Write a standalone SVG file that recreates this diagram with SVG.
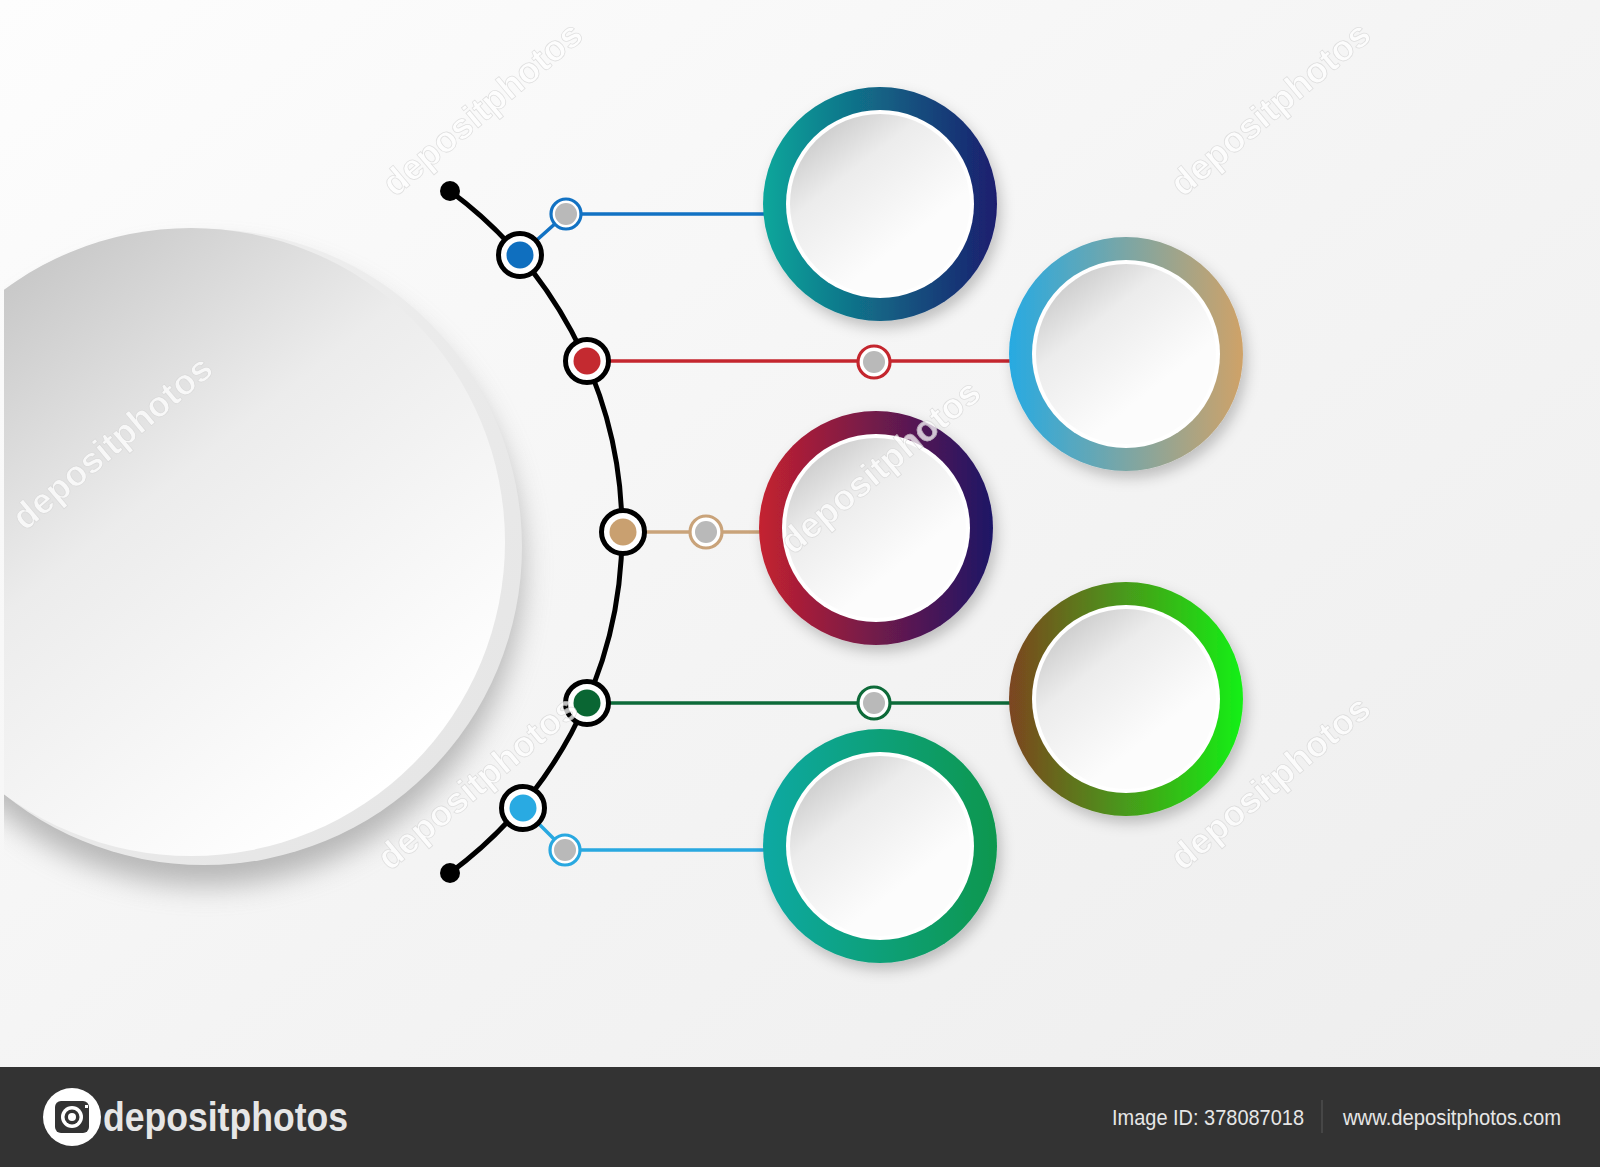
<svg xmlns="http://www.w3.org/2000/svg" width="1600" height="1167" viewBox="0 0 1600 1167">
<defs>
<style>
.arc{fill:none;stroke:#000;stroke-width:5}
.hub{fill:#fff;stroke:#000;stroke-width:5}
.sub{fill:#fff;stroke-width:3.2}
.gray{fill:#b9b9b9}
.ln{fill:none;stroke-width:3.5}
.wm{font-family:"Liberation Sans",Arial,sans-serif;font-size:36px;font-weight:bold;fill:#ffffff;stroke:#d8d8d8;stroke-width:0.8;opacity:0.75}
.bar{font-family:"Liberation Sans",Arial,sans-serif;fill:#e6e6e6}
</style>
<linearGradient id="bg" x1="0" y1="0" x2="1" y2="1">
<stop offset="0" stop-color="#fdfdfd"/><stop offset="0.5" stop-color="#f4f4f4"/><stop offset="1" stop-color="#ededed"/>
</linearGradient>
<linearGradient id="bigdisk" gradientUnits="userSpaceOnUse" x1="0" y1="230" x2="420" y2="760">
<stop offset="0" stop-color="#c2c2c2"/><stop offset="0.45" stop-color="#ececec"/><stop offset="1" stop-color="#ffffff"/>
</linearGradient>
<linearGradient id="rim" x1="0" y1="0" x2="1" y2="1">
<stop offset="0" stop-color="#f2f2f2"/><stop offset="1" stop-color="#e4e4e4"/>
</linearGradient>
<linearGradient id="disk" x1="0.12" y1="0.08" x2="0.62" y2="0.72">
<stop offset="0" stop-color="#c9c9c9"/><stop offset="0.4" stop-color="#ececec"/><stop offset="1" stop-color="#fcfcfc"/>
</linearGradient>
<linearGradient id="g1" x1="0" y1="0" x2="1" y2="0"><stop offset="0" stop-color="#0aa79b"/><stop offset="1" stop-color="#1b1e6e"/></linearGradient>
<linearGradient id="g2" x1="0" y1="0" x2="1" y2="0"><stop offset="0" stop-color="#27aae2"/><stop offset="1" stop-color="#cfa268"/></linearGradient>
<linearGradient id="g3" x1="0" y1="0" x2="1" y2="0"><stop offset="0" stop-color="#c4212f"/><stop offset="1" stop-color="#1d1466"/></linearGradient>
<linearGradient id="g4" x1="0" y1="0" x2="1" y2="0"><stop offset="0" stop-color="#7c4520"/><stop offset="1" stop-color="#14f014"/></linearGradient>
<linearGradient id="g5" x1="0" y1="0" x2="1" y2="0"><stop offset="0" stop-color="#0fa9a3"/><stop offset="1" stop-color="#07974e"/></linearGradient>
<filter id="sh" x="-30%" y="-30%" width="160%" height="160%">
<feDropShadow dx="4" dy="7" stdDeviation="7" flood-color="#000" flood-opacity="0.22"/>
</filter>
<filter id="blur" x="-30%" y="-30%" width="160%" height="160%">
<feGaussianBlur stdDeviation="14"/>
</filter>
<clipPath id="clipL"><rect x="4" y="0" width="1596" height="1067"/></clipPath>
</defs>

<rect x="0" y="0" width="1600" height="1167" fill="url(#bg)"/>

<g id="main-circle" clip-path="url(#clipL)">
<circle cx="205" cy="568" r="318" fill="#8e8e8e" opacity="0.6" filter="url(#blur)"/>
<circle cx="204" cy="547" r="318" fill="url(#rim)"/>
<circle cx="191" cy="542" r="314" fill="url(#bigdisk)"/>
</g>

<g id="connectors">
<path class="arc" d="M 450 191 A 424 424 0 0 1 450 873"/>
<circle cx="450" cy="191" r="10" fill="#000"/>
<circle cx="450" cy="873" r="10" fill="#000"/>
<path class="ln" stroke="#1272c3" d="M 520 255 L 566 214 L 772 214"/>
<path class="ln" stroke="#c4262e" d="M 587 361 L 1016 361"/>
<path class="ln" stroke="#c9a37a" d="M 623 532 L 766 532"/>
<path class="ln" stroke="#0d6a39" d="M 587 703 L 1016 703"/>
<path class="ln" stroke="#29a8e0" d="M 523 808 L 565 850 L 772 850"/>
</g>

<g id="node-1">
<circle cx="520" cy="255" r="21.5" class="hub"/><circle cx="520" cy="255" r="13.5" fill="#0f6fbf"/>
<circle cx="566" cy="214" r="15" class="sub" stroke="#1272c3"/><circle cx="566" cy="214" r="11" class="gray"/>
<g filter="url(#sh)"><circle cx="880" cy="204" r="117" fill="url(#g1)"/></g>
<circle cx="880" cy="204" r="94" fill="#fff"/><circle cx="880" cy="204" r="90" fill="url(#disk)"/>
</g>

<g id="node-2">
<circle cx="587" cy="361" r="21.5" class="hub"/><circle cx="587" cy="361" r="13.5" fill="#c42a30"/>
<circle cx="874" cy="362" r="16" class="sub" stroke="#c4262e"/><circle cx="874" cy="362" r="11" class="gray"/>
<g filter="url(#sh)"><circle cx="1126" cy="354" r="117" fill="url(#g2)"/></g>
<circle cx="1126" cy="354" r="94" fill="#fff"/><circle cx="1126" cy="354" r="90" fill="url(#disk)"/>
</g>

<g id="node-3">
<circle cx="623" cy="532" r="21.5" class="hub"/><circle cx="623" cy="532" r="13.5" fill="#c9a070"/>
<circle cx="706" cy="532" r="16" class="sub" stroke="#c9a37a"/><circle cx="706" cy="532" r="11" class="gray"/>
<g filter="url(#sh)"><circle cx="876" cy="528" r="117" fill="url(#g3)"/></g>
<circle cx="876" cy="528" r="94" fill="#fff"/><circle cx="876" cy="528" r="90" fill="url(#disk)"/>
</g>

<g id="node-4">
<circle cx="587" cy="703" r="21.5" class="hub"/><circle cx="587" cy="703" r="13.5" fill="#0a6633"/>
<circle cx="874" cy="703" r="16" class="sub" stroke="#0d6a39"/><circle cx="874" cy="703" r="11" class="gray"/>
<g filter="url(#sh)"><circle cx="1126" cy="699" r="117" fill="url(#g4)"/></g>
<circle cx="1126" cy="699" r="94" fill="#fff"/><circle cx="1126" cy="699" r="90" fill="url(#disk)"/>
</g>

<g id="node-5">
<circle cx="523" cy="808" r="21.5" class="hub"/><circle cx="523" cy="808" r="13.5" fill="#29aae2"/>
<circle cx="565" cy="850" r="15" class="sub" stroke="#29a8e0"/><circle cx="565" cy="850" r="11" class="gray"/>
<g filter="url(#sh)"><circle cx="880" cy="846" r="117" fill="url(#g5)"/></g>
<circle cx="880" cy="846" r="94" fill="#fff"/><circle cx="880" cy="846" r="90" fill="url(#disk)"/>
</g>

<g id="watermarks">
<text class="wm" transform="translate(490,118) rotate(-40)" text-anchor="middle">depositphotos</text>
<text class="wm" transform="translate(1278,118) rotate(-40)" text-anchor="middle">depositphotos</text>
<text class="wm" transform="translate(120,452) rotate(-40)" text-anchor="middle">depositphotos</text>
<text class="wm" transform="translate(888,476) rotate(-40)" text-anchor="middle">depositphotos</text>
<text class="wm" transform="translate(485,792) rotate(-40)" text-anchor="middle">depositphotos</text>
<text class="wm" transform="translate(1278,792) rotate(-40)" text-anchor="middle">depositphotos</text>
</g>

<g id="footer">
<rect x="0" y="1067" width="1600" height="100" fill="#333333"/>
<circle cx="72" cy="1117" r="29" fill="#ffffff"/>
<rect x="55" y="1101" width="34" height="32" rx="6" fill="#333333"/>
<circle cx="72" cy="1117" r="11" fill="#ffffff"/>
<circle cx="72" cy="1117" r="7.5" fill="#333333"/>
<circle cx="72" cy="1117" r="4" fill="#ffffff"/>
<rect x="85" y="1105" width="3" height="3" fill="#ffffff"/>
<text class="bar" x="103" y="1131" font-size="40" font-weight="bold" fill="#ffffff" textLength="245" lengthAdjust="spacingAndGlyphs">depositphotos</text>
<text class="bar" x="1112" y="1125" font-size="22" textLength="192" lengthAdjust="spacingAndGlyphs">Image ID: 378087018</text>
<line x1="1322" y1="1100" x2="1322" y2="1133" stroke="#5a5a5a" stroke-width="1"/>
<text class="bar" x="1343" y="1125" font-size="22" textLength="218" lengthAdjust="spacingAndGlyphs">www.depositphotos.com</text>
</g>
</svg>
